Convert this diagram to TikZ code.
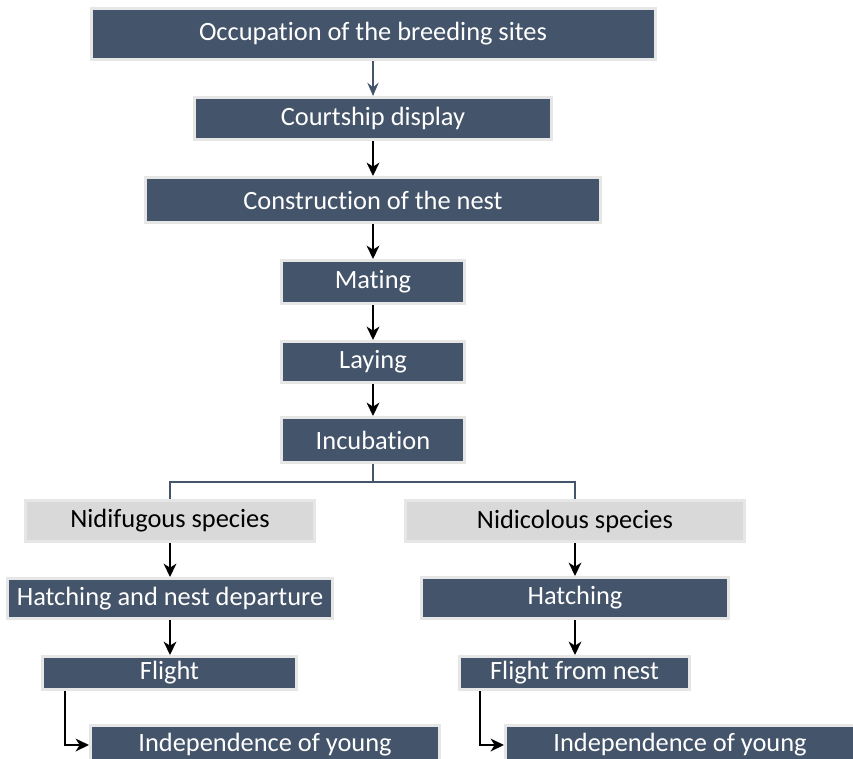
\documentclass[tikz,border=0pt]{standalone}
\usepackage{fontspec}
\setmainfont[Ligatures=NoCommon]{Carlito}
\usetikzlibrary{arrows.meta,calc}
\definecolor{slate}{HTML}{44546A}
\definecolor{lightbox}{HTML}{D9D9D9}
\definecolor{edgegrey}{HTML}{E6E6E6}
\tikzset{
  px/.style={x=0.75pt,y=-0.75pt},
  darkbox/.style={rectangle, fill=slate, draw=edgegrey, line width=2.25pt, text=white,
    font=\fontsize{19.8}{22}\selectfont, inner sep=0pt},
  greybox/.style={rectangle, fill=lightbox, draw=edgegrey, line width=2.25pt, text=black,
    font=\fontsize{19.8}{22}\selectfont, inner sep=0pt},
  arr/.style={draw=black, line width=1.6pt, -{Stealth[length=10pt,width=9.5pt,inset=3pt]}},
  arrslate/.style={draw=slate, line width=1.3pt, -{Stealth[length=10pt,width=8.5pt,inset=3.5pt]}},
  joinline/.style={draw=slate, line width=1.6pt},
}
\begin{document}
\begin{tikzpicture}[px]
\useasboundingbox (0,0) rectangle (853,758);
\node[darkbox, minimum width=423pt, minimum height=38.25pt] (b1) at (373,34) {Occupation of the breeding sites};
\node[darkbox, minimum width=267.75pt, minimum height=31.5pt] (b2) at (373,118.5) {Courtship display};
\node[darkbox, minimum width=341.25pt, minimum height=33.75pt] (b3) at (373,200) {Construction of the nest};
\node[darkbox, minimum width=137.25pt, minimum height=32.25pt] (b4) at (373,282) {Mating};
\node[darkbox, minimum width=137.25pt, minimum height=30.75pt] (b5) at (373,362) {Laying};
\node[darkbox, minimum width=137.25pt, minimum height=33.75pt] (b6) at (373,440) {Incubation};
\node[greybox, minimum width=216.75pt, minimum height=30.75pt] (g1) at (170,521) {Nidifugous species};
\node[greybox, minimum width=254.25pt, minimum height=30.75pt] (g2) at (575,521) {Nidicolous species};
\node[darkbox, minimum width=243.75pt, minimum height=30pt] (h1) at (170,598.5) {Hatching and nest departure};
\node[darkbox, minimum width=230.25pt, minimum height=30.75pt] (h2) at (575,598) {Hatching};
\node[darkbox, minimum width=190.5pt, minimum height=24.75pt] (f1) at (169.5,673) {Flight};
\node[darkbox, minimum width=172.5pt, minimum height=24.75pt] (f2) at (574.5,673) {Flight from nest};
\node[darkbox, minimum width=261.75pt, minimum height=29.25pt] (i1) at (265,745) {Independence of young};
\node[darkbox, minimum width=261.75pt, minimum height=29.25pt] (i2) at (680,745) {Independence of young};
\coordinate (jn) at (373,482);
\draw[arrslate] (b1) -- (b2);
\draw[arr] (b2) -- (b3);
\draw[arr] (b3) -- (b4);
\draw[arr] (b4) -- (b5);
\draw[arr] (b5) -- (b6);
\draw[joinline] (b6.south) -- (jn);
\draw[joinline] (g1.north) |- (jn) -| (g2.north);
\draw[arr] (g1) -- (h1.north -| g1.south);
\draw[arr] (g2) -- (h2.north -| g2.south);
\draw[arr] (h1) -- (f1.north -| h1.south);
\draw[arr] (h2) -- (f2.north -| h2.south);
\coordinate (e1) at ($(f1.south west)+(24,0)$);
\coordinate (e2) at ($(f2.south west)+(22,0)$);
\draw[arr] (e1) |- (i1.west);
\draw[arr] (e2) |- (i2.west);
\end{tikzpicture}
\end{document}
